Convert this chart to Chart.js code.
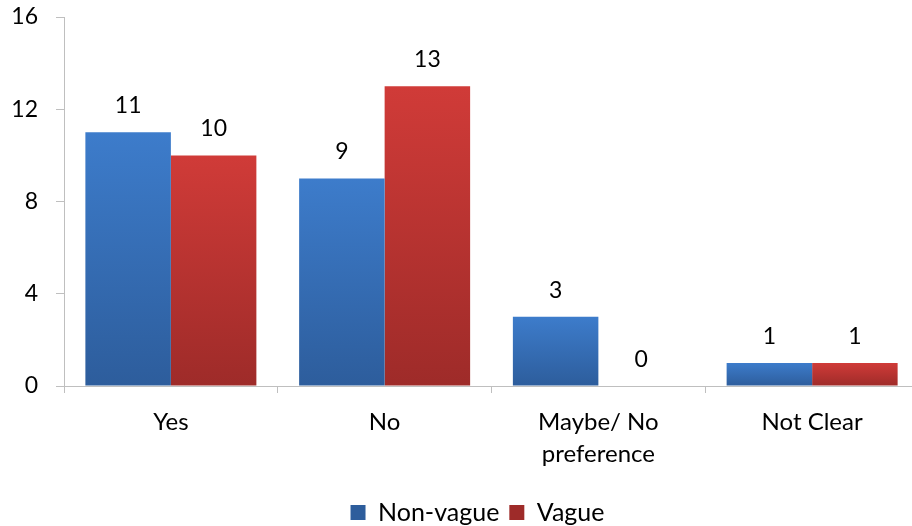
<!DOCTYPE html>
<html>
<head>
<meta charset="utf-8">
<script src="https://cdn.jsdelivr.net/npm/chart.js@4/dist/chart.umd.min.js"></script>
<style>
  html, body { margin: 0; padding: 0; background: #fff; overflow: hidden; }
  canvas { display: block; }
</style>
</head>
<body>
<canvas id="chart" width="920" height="526"></canvas>
<script>
// Survey answers per response type
const categories = [["Yes"], ["No"], ["Maybe/ No", "preference"], ["Not Clear"]];
const seriesNames = ["Non-vague", "Vague"];
const nonVague = [11, 9, 3, 1];
const vague = [10, 13, 0, 1];
const yTicks = [0, 4, 8, 12, 16];

const FONT = "Lato, 'Liberation Sans', sans-serif";

// Vertical gradient per bar: lighter at the top, darker at the base
function barGradient(top, bottom) {
  return (ctx) => {
    const chart = ctx.chart;
    if (!chart.chartArea || ctx.type !== 'data') return top;
    const y = chart.scales.y;
    const yTop = y.getPixelForValue(ctx.raw);
    const yBase = y.getPixelForValue(0);
    if (yBase - yTop < 1) return top;
    const g = chart.ctx.createLinearGradient(0, yTop, 0, yBase);
    g.addColorStop(0, top);
    g.addColorStop(1, bottom);
    return g;
  };
}

// Value printed above each bar
const valueLabels = {
  id: 'valueLabels',
  afterDatasetsDraw(chart) {
    const ctx = chart.ctx;
    ctx.save();
    ctx.font = "23px " + FONT;
    ctx.fillStyle = '#000';
    ctx.textAlign = 'center';
    ctx.textBaseline = 'alphabetic';
    chart.data.datasets.forEach((ds, i) => {
      chart.getDatasetMeta(i).data.forEach((bar, j) => {
        ctx.fillText(String(ds.data[j]), bar.x, bar.y - 19);
      });
    });
    ctx.restore();
  }
};

// Nudge the legend row so it sits centred under the plot, near the bottom edge
const legendPlacement = {
  id: 'legendPlacement',
  afterLayout(chart) {
    const l = chart.legend;
    if (!l) return;
    l.left += 18; l.right += 18;
    l.top += 9; l.bottom += 9;
  }
};

new Chart(document.getElementById('chart'), {
  type: 'bar',
  data: {
    labels: categories,
    datasets: [
      {
        label: seriesNames[0],
        data: nonVague,
        backgroundColor: barGradient('#3d7ccb', '#2d5d9c'),
        borderWidth: 0
      },
      {
        label: seriesNames[1],
        data: vague,
        backgroundColor: barGradient('#d03b38', '#9e2b29'),
        borderWidth: 0
      }
    ]
  },
  options: {
    responsive: false,
    devicePixelRatio: 1,
    animation: false,
    events: [],
    layout: { padding: { left: 0, right: 1, top: 17, bottom: 0 } },
    datasets: { bar: { categoryPercentage: 0.8, barPercentage: 1.0 } },
    plugins: {
      tooltip: { enabled: false },
      legend: {
        position: 'bottom',
        fullSize: true,
        labels: {
          font: { family: FONT, size: 25 },
          color: '#000',
          boxWidth: 15,
          boxHeight: 15,
          padding: 10
        }
      }
    },
    scales: {
      x: {
        grid: { display: true, drawOnChartArea: false, drawTicks: true, tickLength: 7, color: '#bfbfbf', offset: true },
        border: { color: '#bfbfbf', width: 1 },
        ticks: { font: { family: FONT, size: 24, lineHeight: 1.35 }, color: '#000', padding: 13, maxRotation: 0, autoSkip: false },
        afterFit(s) { s.height = 95; s.paddingLeft = 0; s.paddingRight = 0; }
      },
      y: {
        min: 0,
        max: 16,
        afterBuildTicks(s) { s.ticks = yTicks.map(v => ({ value: v })); },
        grid: { display: true, drawOnChartArea: false, drawTicks: true, tickLength: 8, color: '#bfbfbf' },
        border: { color: '#bfbfbf', width: 1 },
        ticks: { font: { family: FONT, size: 23 }, color: '#000', padding: 18 },
        afterFit(s) { s.width = 64; s.paddingTop = 0; s.paddingBottom = 0; }
      }
    }
  },
  plugins: [valueLabels, legendPlacement]
});
</script>
</body>
</html>
